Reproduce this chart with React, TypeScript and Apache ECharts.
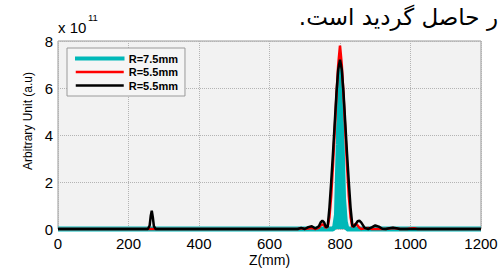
import React, { useEffect, useRef } from "react";
import * as echarts from "echarts";

// Z positions (mm) shared by all three curves
const zValues = [
  0, 255, 260, 263, 266, 269, 272, 277, 670, 680, 690, 700, 710, 720, 730, 740,
  745, 750, 755, 760, 765, 770, 775, 780, 785, 790, 795, 800, 805, 810, 815, 820,
  825, 830, 835, 840, 845, 850, 855, 860, 870, 880, 890, 900, 910, 920, 930, 940,
  950, 960, 970, 980, 990, 1000, 1010, 1020, 1030, 1200,
];

// Amplitudes (x 10^11 a.u.)
const cyanR75 = [
  0, 0, 0, 0, 0, 0, 0, 0, 0, 0, 0, 0, 0, 0, 0, 0,
  0, 0, 0, 0, 0, 0, 0, 0, 0.1, 0.6, 3.6, 7.0, 4.2, 1.3, 0.3, 0,
  0, 0, 0, 0, 0, 0, 0, 0, 0, 0, 0, 0, 0, 0, 0, 0,
  0, 0, 0, 0, 0, 0, 0, 0, 0, 0,
];

const redR55 = [
  0, 0, 0, 0, 0, 0, 0, 0, 0, 0, 0.03, 0, 0.02, 0.04, 0, 0.05,
  0.15, 0.2, 0.15, 0.05, 0.1, 0.5, 1.4, 2.7, 4.2, 5.7, 7.0, 7.8, 7.0, 5.7, 4.2, 2.7,
  1.4, 0.5, 0.08, 0.18, 0.22, 0.15, 0.05, 0, 0.03, 0.04, 0, 0, 0, 0, 0, 0.02,
  0.04, 0.02, 0, 0, 0, 0.02, 0.03, 0, 0, 0,
];

const blackR55 = [
  0, 0, 0.15, 0.55, 0.78, 0.5, 0.12, 0, 0, 0, 0.05, 0, 0.08, 0.12, 0.02, 0.12,
  0.28, 0.35, 0.28, 0.08, 0.1, 0.9, 2.0, 3.2, 4.5, 5.8, 6.8, 7.2, 6.8, 5.8, 4.5, 3.2,
  2.0, 0.9, 0.15, 0.1, 0.22, 0.33, 0.35, 0.28, 0.05, 0, 0.07, 0.15, 0.1, 0.01, 0, 0.03,
  0.05, 0.03, 0, 0, 0, 0, 0, 0, 0, 0,
];

const seriesNames = ["R=7.5mm", "R=5.5mm", "R=5.5mm "];
const seriesColors = ["#00b8b8", "#ff0000", "#000000"];

const xMin = 0;
const xMax = 1200;
const xStep = 200;
const yMin = 0;
const yMax = 8;
const yStep = 2;

const FONT = "Liberation Sans, Arial, Helvetica, sans-serif";

const toPairs = (vals: number[]) => zValues.map((z, i) => [z, vals[i]]);

export default function App() {
  const ref = useRef<HTMLDivElement>(null);

  useEffect(() => {
    if (!ref.current) return;
    const chart = echarts.init(ref.current, null, { renderer: "svg" });
    chart.setOption({
      animation: false,
      backgroundColor: "#ffffff",
      grid: {
        left: 58,
        right: 19,
        top: 41,
        bottom: 40,
        containLabel: false,
        outerBoundsMode: "none",
        show: true,
        backgroundColor: "#f2f2f2",
        borderColor: "#9a9a9a",
        borderWidth: 1,
      },
      legend: {
        orient: "vertical",
        left: 67,
        top: 48,
        itemWidth: 48,
        itemHeight: 2.5,
        itemGap: 2.5,
        padding: [5, 7, 5, 8],
        backgroundColor: "#f5f5f5",
        borderColor: "#9a9a9a",
        borderWidth: 1,
        selectedMode: false,
        formatter: (n: string) => n.trim(),
        textStyle: { fontSize: 11, fontWeight: "bold", fontFamily: FONT, color: "#000" },
        data: [
          { name: seriesNames[0], icon: "rect", itemStyle: { color: seriesColors[0], borderColor: seriesColors[0], borderWidth: 1.5 } },
          { name: seriesNames[1], icon: "rect", itemStyle: { color: seriesColors[1] } },
          { name: seriesNames[2], icon: "rect", itemStyle: { color: seriesColors[2] } },
        ],
      },
      xAxis: {
        type: "value",
        min: xMin,
        max: xMax,
        interval: xStep,
        name: "Z(mm)",
        nameLocation: "middle",
        nameGap: 24,
        nameMoveOverlap: false,
        nameTextStyle: { fontSize: 14, fontFamily: FONT, color: "#000", lineHeight: 14 },
        axisLine: { show: false },
        axisTick: { show: false },
        axisLabel: {
          fontSize: 15,
          fontFamily: FONT,
          color: "#000",
          margin: 7,
          formatter: (v: number) => String(v),
        },
        splitLine: { show: true, lineStyle: { type: "dotted", color: "#b4b4b4", width: 1 } },
      },
      yAxis: {
        type: "value",
        min: yMin,
        max: yMax,
        interval: yStep,
        axisLine: { show: false },
        axisTick: { show: false },
        axisLabel: {
          fontSize: 15,
          fontFamily: FONT,
          color: "#000",
          margin: 5,
          formatter: (v: number) => String(v),
        },
        splitLine: { show: true, lineStyle: { type: "dotted", color: "#b4b4b4", width: 1 } },
      },
      graphic: [
        {
          type: "text",
          x: 27.5,
          y: 121,
          rotation: Math.PI / 2,
          style: {
            text: "Arbitrary Unit (a.u)",
            fontSize: 12,
            fontFamily: FONT,
            fill: "#000",
            align: "center",
            verticalAlign: "middle",
          },
        },
        {
          type: "text",
          x: 58,
          y: 27,
          style: { text: "x 10", fontSize: 15, fontFamily: FONT, fill: "#000", align: "left", verticalAlign: "middle" },
        },
        {
          type: "text",
          x: 88,
          y: 17.5,
          style: { text: "11", fontSize: 9.5, fontFamily: FONT, fill: "#000", align: "left", verticalAlign: "middle" },
        },
        {
          type: "text",
          x: 498,
          y: 17,
          style: {
            text: "ر حاصل گردید است.\u200F",
            fontSize: 23,
            fontFamily: "DejaVu Sans, serif",
            fill: "#000",
            align: "right",
            verticalAlign: "middle",
          },
        },
      ],
      series: [
        {
          name: seriesNames[0],
          type: "line",
          data: toPairs(cyanR75),
          showSymbol: false,
          clip: false,
          color: seriesColors[0],
          lineStyle: { color: seriesColors[0], width: 5 },
          areaStyle: { color: seriesColors[0], opacity: 1 },
          z: 2,
        },
        {
          name: seriesNames[1],
          type: "line",
          data: toPairs(redR55),
          showSymbol: false,
          clip: false,
          color: seriesColors[1],
          lineStyle: { color: seriesColors[1], width: 2.5 },
          z: 3,
        },
        {
          name: seriesNames[2],
          type: "line",
          data: toPairs(blackR55),
          showSymbol: false,
          clip: false,
          color: seriesColors[2],
          lineStyle: { color: seriesColors[2], width: 2.5 },
          z: 4,
        },
      ],
    });
    return () => chart.dispose();
  }, []);

  return (
    <div
      ref={ref}
      style={{ position: "fixed", left: 0, top: 0, width: 500, height: 269 }}
    />
  );
}
